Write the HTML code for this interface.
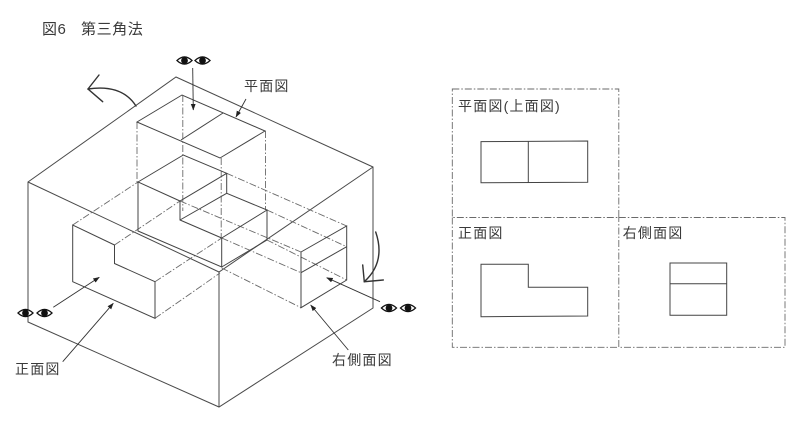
<!DOCTYPE html>
<html><head><meta charset="utf-8">
<style>
html,body{margin:0;padding:0;background:#fff;width:800px;height:425px;overflow:hidden}
svg{display:block}
text{font-family:"Liberation Sans","Noto Sans CJK JP",sans-serif;fill:#3a3a3a;font-size:14px;letter-spacing:1.2px}
</style></head><body>
<svg width="800" height="425" viewBox="0 0 800 425" xmlns="http://www.w3.org/2000/svg">
<defs>
<marker id="ah" markerWidth="7" markerHeight="6" refX="6" refY="3" orient="auto" markerUnits="userSpaceOnUse">
<path d="M0,0.6 L6.5,3 L0,5.4 Z" fill="#222"/>
</marker>
<g id="eye">
<path d="M-8.5,0 Q0,-8.5 8.5,0 Q0,8.5 -8.5,0Z" fill="#111"/>
<path d="M-6.6,0 Q0,-5.8 6.6,0 Q0,5.8 -6.6,0Z" fill="#fff"/>
<circle r="3.4" fill="#111"/>
</g>
</defs>

<!-- title -->
<text x="42" y="34" style="font-size:15px;letter-spacing:0.5px">図6</text>
<text x="81" y="34" style="font-size:15px;letter-spacing:0.6px">第三角法</text>

<!-- frame box -->
<g fill="none" stroke="#4a4a4a" stroke-width="1">
<path d="M176,77 L373,167 L373,308 L219,407 L28,322 L28,182 Z"/>
<path d="M28,182 L219,272 L373,167"/>
<path d="M219,272 L219,407"/>
</g>

<!-- dash-dot projection lines -->
<g fill="none" stroke="#6a6a6a" stroke-width="0.9" stroke-dasharray="7 2 1.5 2">
<path d="M137,122 V182"/>
<path d="M182.8,95 V211"/>
<path d="M221.2,158 V238"/>
<path d="M265.5,131 V210"/>
<path d="M72.7,225 L138,182"/>
<path d="M114.5,245 L180,201"/>
<path d="M155,281.7 L221.7,238"/>
<path d="M155,318.3 L220,273"/>
<path d="M226.7,173.3 L346.7,226"/>
<path d="M180,201 L301,252"/>
<path d="M267,210 L346.7,246.7"/>
<path d="M221.7,238 L301,272.7"/>
<path d="M221.7,268 L301,307.7"/>
<path d="M267,240 L346.7,280"/>
</g>

<!-- solid drawing -->
<g fill="none" stroke="#444" stroke-width="1">
<!-- plan on top face -->
<path d="M137,122 L182,95 L265,131 L220,158 Z"/>
<path d="M223,113 L181,140"/>
<!-- object -->
<path d="M138,182 L183.3,155 L226.7,173.3 L180,201 Z"/>
<path d="M138,182 L138,231 L221.7,267 L221.7,238 L180,220 L180,201"/>
<path d="M180,220 L226.7,193.3 L267,210 L221.7,238"/>
<path d="M226.7,173.3 L226.7,193.3"/>
<path d="M267,210 L267,240 L221.7,267"/>
<!-- front view on left face -->
<path d="M72.7,225 L72.7,281.7 L155,318.3 L155,281.7 L114.5,263.5 L114.5,245 Z"/>
<!-- side view on right face -->
<path d="M301,252 L346.7,226 L346.7,280 L301,307.7 Z"/>
<path d="M301,272.7 L346.7,246.7"/>
</g>

<!-- leader arrows -->
<g fill="none" stroke="#333" stroke-width="0.9" marker-end="url(#ah)">
<path d="M192.7,68 L193.3,110"/>
<path d="M246,99 L236,117"/>
<path d="M53.3,307.3 L99.3,277.3"/>
<path d="M62.7,361.7 L113.3,303.3"/>
<path d="M380,301.7 L326.7,277.7"/>
<path d="M348.3,350 L310.7,305"/>
</g>

<!-- rotation arrows -->
<g fill="none" stroke="#333" stroke-width="1.4" stroke-linecap="round">
<path d="M136,106 Q122,84 88,89"/>
<path d="M99,75 L88,89 L102.7,101.7"/>
<path d="M375.7,232 Q386,262 364.3,281.7"/>
<path d="M362.7,265 L364.3,281.7 L383.3,280"/>
</g>

<!-- eyes -->
<use href="#eye" x="184.5" y="60.5"/>
<use href="#eye" x="202.5" y="60.5"/>
<use href="#eye" x="25.5" y="313"/>
<use href="#eye" x="44.5" y="313"/>
<use href="#eye" x="389" y="308"/>
<use href="#eye" x="408" y="308"/>

<!-- labels in diagram -->
<text x="244" y="91">平面図</text>
<text x="15" y="374">正面図</text>
<text x="332" y="365">右側面図</text>

<!-- right panel frames -->
<g fill="none" stroke="#6a6a6a" stroke-width="0.9" stroke-dasharray="7 2 1.5 2">
<path d="M452.3,89 H618.8 V217.5 H452.3 Z"/>
<path d="M452.3,217.5 V347.3 H618.8"/>
<path d="M618.8,217.5 H785 V347.3 H618.8 Z"/>
</g>

<text x="458" y="111">平面図(上面図)</text>
<text x="458" y="238">正面図</text>
<text x="622.7" y="238">右側面図</text>

<g fill="none" stroke="#444" stroke-width="1">
<path d="M481,141.6 L587.7,141 L587.7,182.3 L481,182.7 Z"/>
<path d="M528.3,141.3 V182.5"/>
<path d="M481,264.3 L528.3,264.3 L528.3,287.3 L587.7,287.3 L587.7,316 L481,316.7 Z"/>
<path d="M670,263 H726.7 V315.3 H670 Z"/>
<path d="M670,283.7 H726.7"/>
</g>
</svg>
</body></html>
